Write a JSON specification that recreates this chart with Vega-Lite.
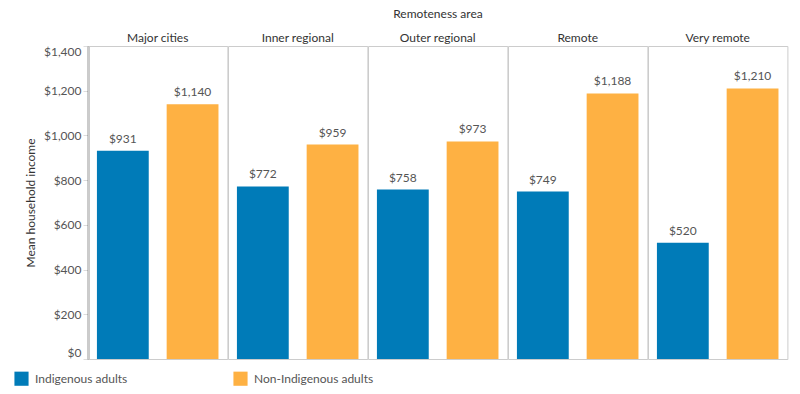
{
  "$schema": "https://vega.github.io/schema/vega-lite/v6.json",
  "background": "white",
  "padding": {"left": 14, "top": 8, "right": 14, "bottom": 5},
  "spacing": 0,
  "bounds": "flush",
  "data": {
    "values": [
      {"area": "Major cities", "group": "Indigenous adults", "income": 931},
      {"area": "Major cities", "group": "Non-Indigenous adults", "income": 1140},
      {"area": "Inner regional", "group": "Indigenous adults", "income": 772},
      {"area": "Inner regional", "group": "Non-Indigenous adults", "income": 959},
      {"area": "Outer regional", "group": "Indigenous adults", "income": 758},
      {"area": "Outer regional", "group": "Non-Indigenous adults", "income": 973},
      {"area": "Remote", "group": "Indigenous adults", "income": 749},
      {"area": "Remote", "group": "Non-Indigenous adults", "income": 1188},
      {"area": "Very remote", "group": "Indigenous adults", "income": 520},
      {"area": "Very remote", "group": "Non-Indigenous adults", "income": 1210}
    ]
  },
  "config": {
    "font": "Lato",
    "view": {"stroke": "#cccccc", "strokeWidth": 1},
    "axis": {"labelFont": "Lato", "titleFont": "Lato"}
  },
  "facet": {
    "column": {
      "field": "area",
      "type": "nominal",
      "sort": ["Major cities", "Inner regional", "Outer regional", "Remote", "Very remote"],
      "title": "Remoteness area",
      "header": {
        "labelOrient": "top",
        "titleOrient": "top",
        "labelFontSize": 12,
        "titleFontSize": 12,
        "titleFontWeight": "normal",
        "labelColor": "#333333",
        "titleColor": "#333333",
        "labelPadding": 1,
        "titlePadding": 1
      }
    }
  },
  "spec": {
    "width": 139.4,
    "height": 313,
    "encoding": {
      "x": {
        "field": "group",
        "type": "nominal",
        "axis": null,
        "scale": {"paddingInner": 0.257, "paddingOuter": 0.128}
      },
      "y": {
        "field": "income",
        "type": "quantitative",
        "scale": {"domain": [0, 1400], "nice": false},
        "axis": {
          "title": "Mean household income",
          "titleFontSize": 12,
          "titleFontWeight": "normal",
          "titleColor": "#333333",
          "titlePadding": 6,
          "labelFontSize": 12,
          "labelColor": "#555555",
          "labelFlush": true,
          "format": "$,.0f",
          "values": [0, 200, 400, 600, 800, 1000, 1200, 1400],
          "grid": false,
          "domainColor": "#333333",
          "domainWidth": 1.5,
          "tickColor": "#dddddd",
          "tickSize": 5,
          "labelPadding": 2
        }
      }
    },
    "layer": [
      {
        "mark": {"type": "bar"},
        "encoding": {
          "color": {
            "field": "group",
            "type": "nominal",
            "scale": {"domain": ["Indigenous adults", "Non-Indigenous adults"], "range": ["#007bb8", "#feb143"]},
            "legend": {
              "title": null,
              "orient": "none",
              "legendX": -74,
              "legendY": 325,
              "direction": "horizontal",
              "symbolType": "square",
              "symbolSize": 200,
              "symbolStrokeWidth": 0,
              "labelFontSize": 12,
              "labelColor": "#555555",
              "columnPadding": 105,
              "labelOffset": 6
            }
          }
        }
      },
      {
        "mark": {"type": "text", "baseline": "bottom", "dy": -5, "fontSize": 12, "color": "#555555"},
        "encoding": {
          "text": {"field": "income", "type": "quantitative", "format": "$,.0f"}
        }
      },
      {
        "mark": {"type": "rule", "color": "#333333", "strokeWidth": 1.5},
        "encoding": {"y": {"datum": 0}}
      }
    ]
  }
}
